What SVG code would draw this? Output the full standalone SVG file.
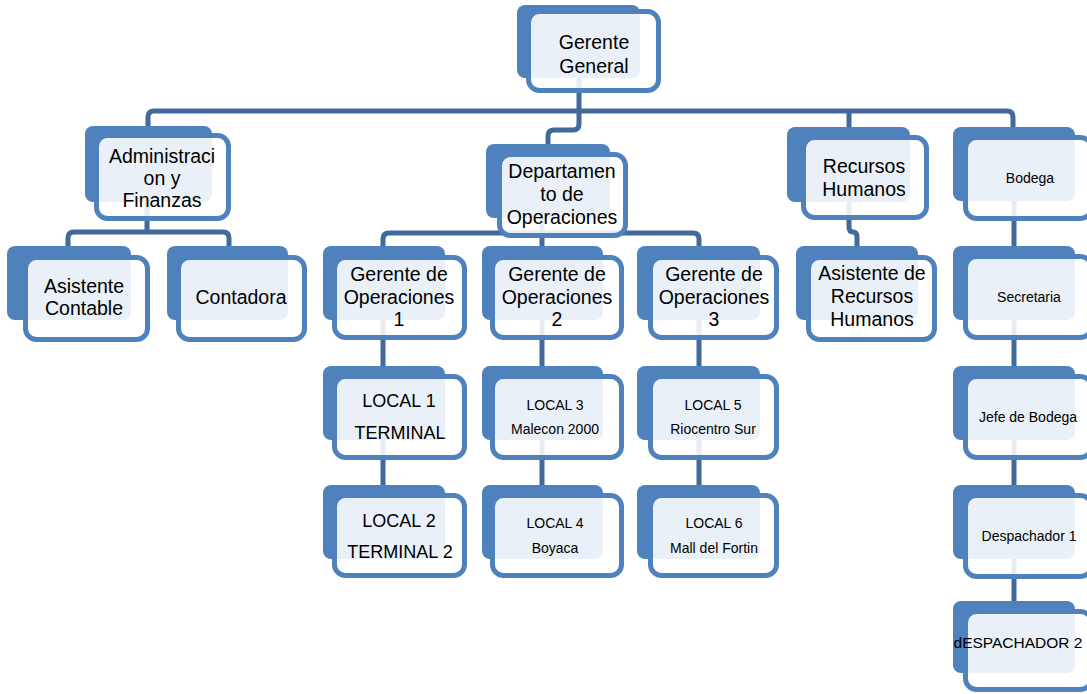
<svg xmlns="http://www.w3.org/2000/svg" width="1087" height="694" viewBox="0 0 1087 694">
  <style>
    .back { fill: #4F81BD; }
    .front { fill: #FFFFFF; fill-opacity: 0.88; stroke: #4F81BD; stroke-width: 5; }
    .link { fill: none; stroke: #41699B; stroke-width: 5; stroke-linejoin: round; }
    text { font-family: "Liberation Sans", Arial, sans-serif; fill: #000000; text-anchor: middle; }
    .lg { font-size: 19.5px; }
    .md { font-size: 18px; }
    .sm { font-size: 14px; }
  </style>
  <rect width="1087" height="694" fill="#FFFFFF"/>

  <!-- connectors sit beneath the boxes -->
  <g id="connectors">
    <path class="link" d="M579,78 V124 Q579,130 573,130 H554 Q548,130 548,136 V146"/>
    <path class="link" d="M148,128 V117 Q148,111 154,111 H1007 Q1013,111 1013,117 V128"/>
    <path class="link" d="M849,111 V128"/>
    <path class="link" d="M147,202 V232 M68,247 V238 Q68,232 74,232 H223 Q229,232 229,238 V247"/>
    <path class="link" d="M542,218 V248 M383,248 V239 Q383,233 389,233 H693 Q699,233 699,239 V248"/>
    <path class="link" d="M849,202 V227 Q849,232 853,232 Q857,232 857,237 V247"/>
    <path class="link" d="M383,320 V367 M383,440 V486"/>
    <path class="link" d="M542,320 V367 M542,440 V486"/>
    <path class="link" d="M699,320 V367 M699,440 V486"/>
    <path class="link" d="M1014,201 V247 M1014,320 V367 M1014,440 V486 M1014,559 V601"/>
  </g>

  <g id="gerente-general">
    <rect class="back" x="517" y="5" width="123" height="73" rx="8"/>
    <rect class="front" x="528.5" y="11.5" width="130" height="79" rx="11"/>
    <text class="lg" x="594" y="49">Gerente</text>
    <text class="lg" x="594" y="73">General</text>
  </g>

  <g id="administracion">
    <rect class="back" x="85" y="126" width="127" height="76" rx="8"/>
    <rect class="front" x="96.5" y="135.5" width="132" height="83" rx="11"/>
    <text class="lg" x="162" y="163">Administraci</text>
    <text class="lg" x="162" y="185">on y</text>
    <text class="lg" x="162" y="207">Finanzas</text>
  </g>

  <g id="asistente-contable">
    <rect class="back" x="7" y="246" width="124" height="74" rx="8"/>
    <rect class="front" x="25.5" y="257.5" width="122" height="82" rx="11"/>
    <text class="lg" x="84" y="293">Asistente</text>
    <text class="lg" x="84" y="315">Contable</text>
  </g>

  <g id="contadora">
    <rect class="back" x="167" y="246" width="121" height="74" rx="8"/>
    <rect class="front" x="178.5" y="257.5" width="126" height="82" rx="11"/>
    <text class="lg" x="241" y="304">Contadora</text>
  </g>

  <g id="departamento-operaciones">
    <rect class="back" x="486" y="144" width="124" height="74" rx="8"/>
    <rect class="front" x="499.5" y="154.5" width="126" height="81" rx="11"/>
    <text class="lg" x="562" y="178">Departamen</text>
    <text class="lg" x="562" y="201">to de</text>
    <text class="lg" x="562" y="224">Operaciones</text>
  </g>

  <g id="recursos-humanos">
    <rect class="back" x="787" y="127" width="123" height="75" rx="8"/>
    <rect class="front" x="803.5" y="137.5" width="123" height="80" rx="11"/>
    <text class="lg" x="864" y="173">Recursos</text>
    <text class="lg" x="864" y="196">Humanos</text>
  </g>

  <g id="asistente-rrhh">
    <rect class="back" x="796" y="246" width="122" height="74" rx="8"/>
    <rect class="front" x="808.5" y="257.5" width="126" height="82" rx="11"/>
    <text class="lg" x="872" y="280">Asistente de</text>
    <text class="lg" x="872" y="303">Recursos</text>
    <text class="lg" x="872" y="326">Humanos</text>
  </g>

  <g id="gerente-op-1">
    <rect class="back" x="323" y="246" width="122" height="74" rx="8"/>
    <rect class="front" x="334.5" y="257.5" width="130" height="80" rx="11"/>
    <text class="lg" x="399" y="281">Gerente de</text>
    <text class="lg" x="399" y="304">Operaciones</text>
    <text class="lg" x="399" y="326">1</text>
  </g>

  <g id="local-1">
    <rect class="back" x="323" y="366" width="122" height="74" rx="8"/>
    <rect class="front" x="334.5" y="376.5" width="130" height="81" rx="11"/>
    <text class="md" x="399" y="407">LOCAL 1</text>
    <text class="md" x="400" y="439">TERMINAL</text>
  </g>

  <g id="local-2">
    <rect class="back" x="323" y="485" width="122" height="74" rx="8"/>
    <rect class="front" x="334.5" y="495.5" width="130" height="80" rx="11"/>
    <text class="md" x="399" y="527">LOCAL 2</text>
    <text class="md" x="400" y="558">TERMINAL 2</text>
  </g>

  <g id="gerente-op-2">
    <rect class="back" x="482" y="246" width="121" height="74" rx="8"/>
    <rect class="front" x="492.5" y="257.5" width="129" height="80" rx="11"/>
    <text class="lg" x="557" y="281">Gerente de</text>
    <text class="lg" x="557" y="304">Operaciones</text>
    <text class="lg" x="557" y="326">2</text>
  </g>

  <g id="local-3">
    <rect class="back" x="482" y="366" width="121" height="74" rx="8"/>
    <rect class="front" x="492.5" y="376.5" width="129" height="81" rx="11"/>
    <text class="sm" x="555" y="410">LOCAL 3</text>
    <text class="sm" x="555" y="434">Malecon 2000</text>
  </g>

  <g id="local-4">
    <rect class="back" x="482" y="485" width="121" height="74" rx="8"/>
    <rect class="front" x="492.5" y="495.5" width="129" height="80" rx="11"/>
    <text class="sm" x="555" y="528">LOCAL 4</text>
    <text class="sm" x="555" y="553">Boyaca</text>
  </g>

  <g id="gerente-op-3">
    <rect class="back" x="637" y="246" width="123" height="74" rx="8"/>
    <rect class="front" x="650.5" y="257.5" width="126" height="80" rx="11"/>
    <text class="lg" x="714" y="281">Gerente de</text>
    <text class="lg" x="714" y="304">Operaciones</text>
    <text class="lg" x="714" y="326">3</text>
  </g>

  <g id="local-5">
    <rect class="back" x="637" y="366" width="123" height="74" rx="8"/>
    <rect class="front" x="650.5" y="376.5" width="126" height="81" rx="11"/>
    <text class="sm" x="713" y="410">LOCAL 5</text>
    <text class="sm" x="713" y="434">Riocentro Sur</text>
  </g>

  <g id="local-6">
    <rect class="back" x="637" y="485" width="123" height="74" rx="8"/>
    <rect class="front" x="650.5" y="495.5" width="126" height="80" rx="11"/>
    <text class="sm" x="714" y="528">LOCAL 6</text>
    <text class="sm" x="714" y="553">Mall del Fortin</text>
  </g>

  <g id="bodega">
    <rect class="back" x="953" y="127" width="122" height="74" rx="8"/>
    <rect class="front" x="965.5" y="137.5" width="126" height="81" rx="11"/>
    <text class="sm" x="1030" y="183">Bodega</text>
  </g>

  <g id="secretaria">
    <rect class="back" x="953" y="246" width="122" height="74" rx="8"/>
    <rect class="front" x="965.5" y="256.5" width="126" height="81" rx="11"/>
    <text class="sm" x="1029" y="302">Secretaria</text>
  </g>

  <g id="jefe-bodega">
    <rect class="back" x="953" y="366" width="122" height="74" rx="8"/>
    <rect class="front" x="965.5" y="376.5" width="126" height="81" rx="11"/>
    <text class="sm" x="1028" y="422">Jefe de Bodega</text>
  </g>

  <g id="despachador-1">
    <rect class="back" x="953" y="485" width="122" height="74" rx="8"/>
    <rect class="front" x="965.5" y="495.5" width="126" height="81" rx="11"/>
    <text class="sm" x="1029" y="541">Despachador 1</text>
  </g>

  <g id="despachador-2">
    <rect class="back" x="953" y="601" width="122" height="72" rx="8"/>
    <rect class="front" x="965.5" y="611.5" width="126" height="78" rx="11"/>
    <text x="1018" y="648" font-size="15.5px">dESPACHADOR 2</text>
  </g>
</svg>
